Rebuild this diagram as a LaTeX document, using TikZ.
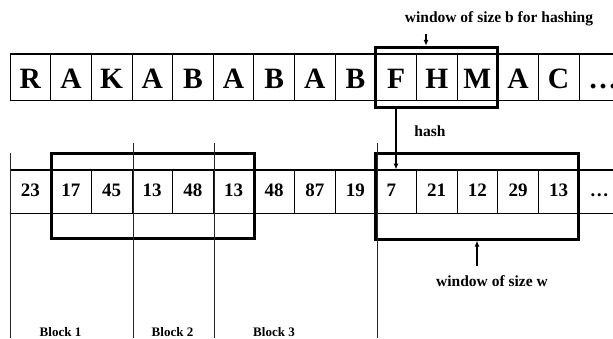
\documentclass[tikz,border=0pt]{standalone}
\usepackage{fontspec}
\setmainfont{Liberation Serif}
\usetikzlibrary{arrows.meta}
\begin{document}
\begin{tikzpicture}[x=1pt,y=-1pt,
  cellT/.style={draw, line width=0.8pt, minimum width=40.64pt, minimum height=46pt, inner sep=0pt,
    text height=23.5pt, text depth=0pt, font=\bfseries\fontsize{29.5}{30}\selectfont},
  cellB/.style={draw, line width=0.8pt, minimum width=40.64pt, minimum height=43pt, inner sep=0pt,
    text height=9.2pt, text depth=0pt, font=\bfseries\fontsize{19}{20}\selectfont},
  rowline/.style={line width=1.5pt},
  winbox/.style={draw, line width=3pt, inner sep=0pt},
  lab/.style={font=\bfseries\fontsize{15.5}{16}\selectfont, inner sep=0pt},
  blk/.style={font=\bfseries\fontsize{13}{14}\selectfont, inner sep=0pt},
  arr/.style={line width=1.3pt, -{Latex[length=6pt,width=5pt]}},
  sep/.style={line width=0.9pt, black!85}]
\useasboundingbox (0,0) rectangle (613,339);

% top row of characters
\foreach \l [count=\i from 0] in {R,A,K,A,B,A,B,A,B,F,H,M,A,C,\makebox[22pt][l]{…}}
  \node[cellT] (t\i) at ({10+40.64*(\i+0.5)},77) {\l};
\draw[rowline] (t0.north west) -- (t14.north east);
\draw[rowline] (t0.south west) -- (t14.south east);

% bottom row of hash values
\foreach \l [count=\i from 0] in {23,17,45,13,48,13,48,87,19,7\hphantom{1},21,12,29,13,…}
  \node[cellB] (b\i) at ({10+40.64*(\i+0.5)},191.5) {\l};
\draw[rowline] (b0.north west) -- (b14.north east);
\draw[rowline] (b0.south west) -- (b14.south east);

% window boxes
\node[winbox, minimum width=122.3pt, minimum height=60.4pt] (hw) at (436.8,77.5) {};
\node[winbox, minimum width=203pt, minimum height=85.5pt] (bw1) at (153.2,196) {};
\node[winbox, minimum width=203pt, minimum height=85.7pt] (bw2) at (477.2,196.2) {};

% block separators
\coordinate (v0a) at (10,153);  \coordinate (v0b) at (10,338);
\coordinate (v1a) at (133,143); \coordinate (v1b) at (133,338);
\coordinate (v2a) at (214,143); \coordinate (v2b) at (214,338);
\coordinate (v3a) at (377,143); \coordinate (v3b) at (377,338);
\draw[sep] (v0a) -- (v0b);
\draw[sep] (v1a) -- (v1b);
\draw[sep] (v2a) -- (v2b);
\draw[sep] (v3a) -- (v3b);

% labels
\node[lab] (lb) at (499,19) {window of size b for hashing};
\node[lab] (lh) at (430,131) {hash};
\node[lab] (lw) at (492,281) {window of size w};
\node[blk] (k1) at (60.5,332) {Block 1};
\node[blk] (k2) at (172.5,332) {Block 2};
\node[blk] (k3) at (274,332) {Block 3};

% arrows
\coordinate (a1) at (426,34);
\draw[arr] (a1) -- (a1 |- hw.north);
\coordinate (h1) at (396,109);
\draw[arr] (h1) -- (h1 |- b9.north);
\coordinate (w1) at (477,266);
\draw[arr] (w1) -- (w1 |- bw2.south);
\end{tikzpicture}
\end{document}
